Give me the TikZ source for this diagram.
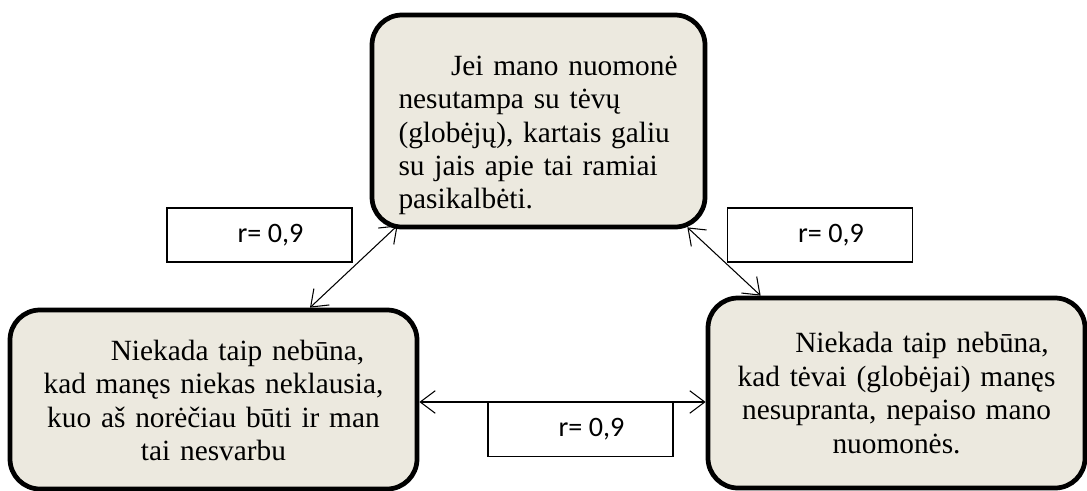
\documentclass[tikz,border=0pt]{standalone}
\usepackage{fontspec}
\setmainfont{Liberation Serif}
\newfontfamily\calibri{Carlito}
\usetikzlibrary{arrows.meta}
\definecolor{smelis}{RGB}{236,233,223}

\tikzset{
  mintis/.style={draw, line width=2.7pt, fill=smelis, rounded corners=0.6cm, inner sep=0pt, font=\fontsize{16.7}{19}\selectfont},
  koef/.style={draw, line width=1pt, fill=white, minimum width=3.7cm, minimum height=1.08cm, inner sep=0pt, font=\calibri\fontsize{16}{19}\selectfont},
  ryssys/.style={line width=0.6pt, {Straight Barb[length=3mm,width=4.5mm]}-{Straight Barb[length=3mm,width=4.5mm]}}
}

\begin{document}
\begin{tikzpicture}
\useasboundingbox (0,0) rectangle (21.74,9.8);

\node[mintis, minimum width=6.66cm, minimum height=4.24cm, text width=5.6cm, align=left] (nuomone) at (10.77,7.38)
  {\rule{0pt}{0.97cm}\hspace*{1.05cm}Jei mano nuomonė\\ nesutampa su tėvų\\ (globėjų), kartais galiu\\ su jais apie tai ramiai\\ pasikalbėti.};
\node[mintis, minimum width=8.14cm, minimum height=3.58cm, text width=7.5cm, align=center] (klauso) at (4.27,1.81)
  {\rule{0pt}{0.45cm}\hspace*{0.96cm}Niekada taip nebūna,\\ kad manęs niekas neklausia,\\ kuo aš norėčiau būti ir man\\ tai nesvarbu};
\node[mintis, minimum width=7.54cm, minimum height=3.8cm, text width=7cm, align=center] (supranta) at (17.93,1.94)
  {\hspace*{1.02cm}Niekada taip nebūna,\\ kad tėvai (globėjai) manęs\\ nesupranta, nepaiso mano\\ nuomonės.};

\node[koef] (rkaire) at (5.19,5.1) {\hspace*{0.44cm}r= 0,9};
\node[koef] (rdesine) at (16.4,5.1) {\hspace*{0.44cm}r= 0,9};
\node[koef] (rapacia) at (11.61,1.21) {\hspace*{0.44cm}r= 0,9};

\draw[ryssys] ([shift={(0.56,0.08)}]nuomone.south west) -- ([xshift=1.93cm]klauso.north);
\draw[ryssys] ([shift={(-0.4,0.04)}]nuomone.south east) -- ([xshift=1.1cm]supranta.north west);
\coordinate (apacia) at ([yshift=-0.05cm]klauso.east);
\draw[ryssys] (apacia) -- (apacia -| supranta.west);

\end{tikzpicture}
\end{document}
